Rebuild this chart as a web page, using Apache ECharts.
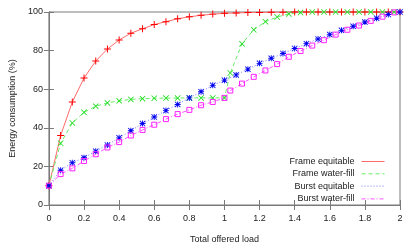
<!DOCTYPE html>
<html><head><meta charset="utf-8">
<script src="https://cdn.jsdelivr.net/npm/echarts@6/dist/echarts.min.js"></script>
<style>html,body{margin:0;padding:0;background:#fff}#c{width:415px;height:249px}</style>
</head><body><div id="c"></div>
<script>
const loadA = [0,0.0667,0.1333,0.2,0.2667,0.3333,0.4,0.4667,0.5333,0.6,0.6667,0.7333,0.8,0.8667,0.9333,1,1.0667,1.1333,1.2,1.2667,1.3333,1.4,1.4667,1.5333,1.6,1.6667,1.7333,1.8,1.8667,1.9333,2];
const loadB = [0,0.0667,0.1333,0.2,0.2667,0.3333,0.4,0.4667,0.5333,0.6,0.6667,0.7333,0.8,0.8667,0.9333,1,1.0333,1.1,1.1667,1.2333,1.3,1.3667,1.4333,1.5,1.5667,1.6333,1.7,1.7667,1.8333,1.9,1.9667];
const frameEquitable = [10,36,53.4,65.8,74.6,80.8,85.5,89,91.3,93.5,95,96.5,97.5,98.3,98.9,99.3,99.5,99.7,99.8,99.9,99.9,100,100,100,100,100,100,100,100,100,100];
const frameWaterFill = [10,32,42.5,48,51.2,52.9,54,54.7,55.1,55.3,55.4,55.4,55.5,55.5,55.5,55.5,68.4,83.5,90.8,95,97.4,99,99.7,100,100,100,100,100,100,100,100];
const burstEquitable = [10,18,21.9,24.5,27.9,31.1,34.8,38.5,42.2,45.6,48.9,52.1,55.5,58.7,62,64.7,67.4,70.4,73.4,76,78.5,81.1,83.6,86,88.3,90.5,92.6,94.8,96.8,98.7,100];
const burstWaterFill = [10,16,19,22.8,26.3,29.8,32.6,36,38.9,41.6,44.5,47.1,49.3,51.7,53.4,55.5,59.3,62.9,66.4,69.7,73,76.8,79.8,82.6,85.4,88.3,90.8,93,95.4,97.6,99.8];
const seriesNames = ['Frame equitable','Frame water-fill','Burst equitable','Burst water-fill'];
const xTitle = 'Total offered load';
const yTitle = 'Energy consumption (%)';

const PLUS = 'path://M4.3,0h1.4v4.3h4.3v1.4h-4.3v4.3h-1.4v-4.3h-4.3v-1.4h4.3z';
const CROSS = 'path://M0,1L1,0L5,4L9,0L10,1L6,5L10,9L9,10L5,6L1,10L0,9L4,5Z';
const STAR = 'path://M4.25,0h1.5v4.25h4.25v1.5h-4.25v4.25h-1.5v-4.25h-4.25v-1.5h4.25zM0,1L1,0L5,4L9,0L10,1L6,5L10,9L9,10L5,6L1,10L0,9L4,5Z';

const pair = (xs, ys) => xs.map((x, i) => [x, ys[i]]);
const FONT = 'Liberation Sans';
const axisGray = '#7a7a7a';

const chart = echarts.init(document.getElementById('c'), null, {renderer: 'canvas'});
chart.setOption({
  animation: false,
  textStyle: {fontFamily: FONT},
  grid: {left: 47, right: 15, top: 12, bottom: 41, show: true, borderColor: axisGray, borderWidth: 1, backgroundColor: 'transparent'},
  legend: {
    orient: 'vertical', right: 25, top: 152, align: 'right',
    itemWidth: 23, itemHeight: 10, itemGap: 3.3,
    textStyle: {fontFamily: FONT, fontSize: 9, color: '#222', padding: [0, 2, 0, 0]},
    itemStyle: {opacity: 0},
    lineStyle: {width: 1},
    data: seriesNames
  },
  xAxis: [{
    type: 'value', min: 0, max: 2, interval: 0.2, position: 'bottom',
    name: xTitle, nameLocation: 'middle', nameGap: 30,
    nameTextStyle: {fontFamily: FONT, fontSize: 9, color: '#222'},
    axisLine: {show: true, lineStyle: {color: axisGray}},
    axisTick: {show: true, inside: true, length: 5, lineStyle: {color: axisGray}},
    axisLabel: {fontFamily: FONT, fontSize: 9, color: '#222', margin: 9},
    splitLine: {show: false}
  }, {
    type: 'value', min: 0, max: 2, interval: 0.2, position: 'top',
    axisLine: {show: true, lineStyle: {color: axisGray}},
    axisTick: {show: true, inside: true, length: 5, lineStyle: {color: axisGray}},
    axisLabel: {show: false}, splitLine: {show: false}
  }],
  yAxis: [{
    type: 'value', min: 0, max: 100, interval: 20, position: 'left',
    name: yTitle, nameLocation: 'middle', nameGap: 31,
    nameTextStyle: {fontFamily: FONT, fontSize: 9, color: '#222'},
    axisLine: {show: true, lineStyle: {color: axisGray}},
    axisTick: {show: true, inside: true, length: 5, lineStyle: {color: axisGray}},
    axisLabel: {fontFamily: FONT, fontSize: 9, color: '#222', margin: 6},
    splitLine: {show: false}
  }, {
    type: 'value', min: 0, max: 100, interval: 20, position: 'right',
    axisLine: {show: true, lineStyle: {color: axisGray}},
    axisTick: {show: true, inside: true, length: 5, lineStyle: {color: axisGray}},
    axisLabel: {show: false}, splitLine: {show: false}
  }],
  series: [
    {name: seriesNames[0], type: 'line', data: pair(loadA, frameEquitable), clip: false,
     symbol: PLUS, symbolSize: 7, itemStyle: {color: '#ff0000'},
     lineStyle: {color: '#ff6a6a', width: 1, type: 'solid'}},
    {name: seriesNames[1], type: 'line', data: pair(loadB, frameWaterFill), clip: false,
     symbol: CROSS, symbolSize: 6, itemStyle: {color: '#22dd22'},
     lineStyle: {color: '#66ee66', width: 1, type: [4, 3]}},
    {name: seriesNames[2], type: 'line', data: pair(loadA, burstEquitable), clip: false,
     symbol: STAR, symbolSize: 6, itemStyle: {color: '#0000ee'},
     lineStyle: {color: '#7777ff', width: 1, type: [1, 2]}},
    {name: seriesNames[3], type: 'line', data: pair(loadB, burstWaterFill), clip: false,
     symbol: 'rect', symbolSize: 5, itemStyle: {color: 'rgba(0,0,0,0)', borderColor: '#ff22ff', borderWidth: 1},
     lineStyle: {color: '#ff55ff', width: 1, type: [4, 2, 1, 2]}}
  ]
});
</script></body></html>
